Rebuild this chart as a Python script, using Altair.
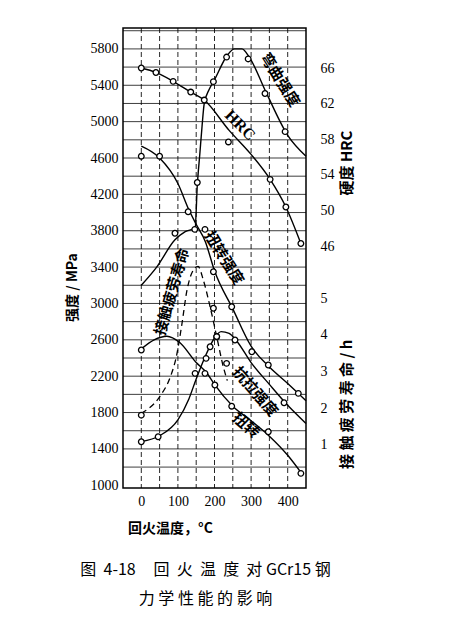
import altair as alt
import pandas as pd

# ---------------- data ----------------
# hardness HRC (right axis, upper part)
hrc_line_T = [0, 40, 87, 135, 172, 240, 300, 352, 395, 436]
hrc_line_v = [66, 65.5, 64.5, 63.3, 62.4, 59.0, 56.3, 53.5, 50.4, 46.3]
hrc_pt_T = [0, 40, 87, 135, 172, 238, 352, 395, 436]
hrc_pt_v = [66, 65.5, 64.5, 63.3, 62.4, 57.7, 53.5, 50.4, 46.3]

# bending strength (MPa)
bend_line_T = [0, 42, 92, 120, 147, 153, 160, 166, 172, 185, 200, 235, 255, 275, 295, 340, 400, 450]
bend_line_v = [3200, 3400, 3700, 3790, 3830, 4300, 4650, 4950, 5200, 5350, 5460, 5730, 5800, 5800, 5710, 5330, 4850, 4620]
bend_pt_T = [92, 146, 153, 197, 233, 292, 338, 393]
bend_pt_v = [3772, 3815, 4330, 5440, 5710, 5690, 5310, 4890]

# torsion strength (MPa)
tors_line_T = [0, 50, 100, 130, 150, 175, 200, 250, 300, 350, 400, 450]
tors_line_v = [4730, 4600, 4320, 4030, 3870, 3680, 3360, 2940, 2530, 2300, 2120, 1930]
tors_pt_T = [0, 50, 128, 174, 197, 247, 302, 347, 429]
tors_pt_v = [4620, 4620, 4009, 3815, 3349, 2964, 2469, 2323, 2011]

# tensile strength (MPa)
tens_line_T = [0, 50, 100, 130, 150, 175, 200, 218, 240, 260, 300, 350, 400, 450]
tens_line_v = [1480, 1545, 1720, 1950, 2170, 2420, 2620, 2690, 2670, 2590, 2350, 2110, 1880, 1680]
tens_pt_T = [0, 46, 147, 177, 188, 206, 256, 390]
tens_pt_v = [1479, 1534, 2231, 2396, 2524, 2634, 2598, 1908]

# twist (on the MPa scale of the figure)
twist_line_T = [0, 35, 70, 105, 150, 180, 200, 250, 300, 350, 400, 440]
twist_line_v = [2500, 2600, 2640, 2570, 2350, 2230, 2110, 1870, 1710, 1540, 1330, 1120]
twist_pt_T = [0, 174, 201, 247, 347, 436]
twist_pt_v = [2488, 2231, 2103, 1870, 1589, 1131]

# contact fatigue life (h, right axis lower part)
life_line_T = [0, 50, 80, 95, 110, 125, 140, 155, 170, 188, 206, 224, 235]
life_line_v = [1.86, 2.31, 2.87, 3.37, 4.23, 5.22, 5.72, 5.86, 5.47, 4.76, 3.95, 3.13, 2.75]
life_pt_T = [0, 197, 206, 233]
life_pt_v = [1.81, 4.72, 3.95, 3.22]

# axis ticks and grid
x_labels = [0, 100, 200, 300, 400]
x_grid = [0, 50, 100, 150, 200, 250, 300, 350, 400]
y_labels = list(range(1000, 5801, 400))
y_grid = list(range(1200, 6001, 200))
hrc_ticks = [46, 50, 54, 58, 62, 66]
life_ticks = [1, 2, 3, 4, 5]

# right-axis scale relations of the figure
HRC0, HRC_STEP = 3630, 98      # MPa position of HRC 46, MPa per HRC unit
LIFE0, LIFE_STEP = 1040, 404   # MPa position of 0 h, MPa per hour


def hrc_pos(h):
    return HRC0 + (h - 46) * HRC_STEP


def life_pos(h):
    return LIFE0 + LIFE_STEP * h


rows_line, rows_pt = [], []


def add(name, lt, lv, pt, pv, conv=lambda v: v):
    for t, v in zip(lt, lv):
        rows_line.append({"series": name, "T": t, "v": conv(v)})
    for t, v in zip(pt, pv):
        rows_pt.append({"series": name, "T": t, "v": conv(v)})


add("HRC", hrc_line_T, hrc_line_v, hrc_pt_T, hrc_pt_v, hrc_pos)
add("弯曲强度", bend_line_T, bend_line_v, bend_pt_T, bend_pt_v)
add("扭转强度", tors_line_T, tors_line_v, tors_pt_T, tors_pt_v)
add("抗拉强度", tens_line_T, tens_line_v, tens_pt_T, tens_pt_v)
add("扭转", twist_line_T, twist_line_v, twist_pt_T, twist_pt_v)
add("接触疲劳寿命", life_line_T, life_line_v, life_pt_T, life_pt_v, life_pos)

lines = pd.DataFrame(rows_line)
pts = pd.DataFrame(rows_pt)

XS = alt.Scale(domain=[-50, 450], nice=False, zero=False)
YS = alt.Scale(domain=[970, 6030], nice=False, zero=False)
NUMF = "Liberation Serif"
CJK = "Noto Sans CJK SC"

x_enc = alt.X("T:Q", scale=XS, axis=alt.Axis(
    values=x_labels, tickCount=50, labelOverlap=False, grid=False, format="d",
    domain=False, ticks=False, labelPadding=6, labelFont=NUMF, labelFontSize=14, labelColor="black",
    title="回火温度，°C", titleFont=CJK, titleFontSize=14, titleFontWeight="bold", titleColor="black",
    titleX=47, titleY=40, titleAlign="center", titleBaseline="middle"))
y_enc = alt.Y("v:Q", scale=YS, axis=alt.Axis(
    values=y_labels, tickCount=50, labelOverlap=False, grid=False, format="d",
    domain=False, ticks=False, labelPadding=5, labelFont=NUMF, labelFontSize=14, labelColor="black",
    title="强度 / MPa", titleFont=CJK, titleFontSize=14, titleFontWeight="bold", titleColor="black",
    titleX=-51, titleY=259, titleAngle=270, titleAlign="center", titleBaseline="middle"))

vgrid = alt.Chart(pd.DataFrame({"T": x_grid})).mark_rule(
    color="black", strokeWidth=1, strokeDash=[5, 3], opacity=0.85).encode(x=x_enc)
hgrid = alt.Chart(pd.DataFrame({"v": y_grid})).mark_rule(
    color="black", strokeWidth=0.9, opacity=0.85).encode(y=y_enc)

solid = alt.Chart(lines[lines.series != "接触疲劳寿命"]).mark_line(
    color="black", strokeWidth=1.4, interpolate="monotone").encode(
    x="T:Q", y="v:Q", detail="series:N")
dashed = alt.Chart(lines[lines.series == "接触疲劳寿命"]).mark_line(
    color="black", strokeWidth=1.3, strokeDash=[6, 4], interpolate="monotone").encode(
    x="T:Q", y="v:Q")
points = alt.Chart(pts).mark_point(
    shape="circle", filled=True, fill="white", stroke="black", strokeWidth=1.3, size=32, opacity=1).encode(
    x="T:Q", y="v:Q")

# curve labels
annotations = [
    ("弯曲强度", 379, 5460, 58),
    ("HRC", 270, 4960, 45),
    ("接触疲劳寿命", 84, 3130, 286),
    ("扭转强度", 226, 3500, 58),
    ("抗拉强度", 311, 2030, 49),
    ("扭转", 286, 1660, 41),
]
label_layers = []
for txt, t, v, ang in annotations:
    label_layers.append(alt.Chart().mark_text(
        text=txt, angle=ang, font=(NUMF if txt == "HRC" else CJK),
        fontSize=(16 if txt == "HRC" else 15),
        fontWeight="bold", color="black").encode(x=alt.datum(t), y=alt.datum(v)))

# right-side titles
right_titles = [
    alt.Chart().mark_text(text="硬度  HRC", angle=270, font=CJK, fontSize=15, fontWeight="bold",
                          color="black").encode(x=alt.value(224), y=alt.datum(4545)),
    alt.Chart().mark_text(text="接 触 疲 劳 寿 命 / h", angle=270, font=CJK, fontSize=15,
                          fontWeight="bold", color="black").encode(x=alt.value(224), y=alt.datum(1890)),
]

main = alt.layer(hgrid, vgrid, solid, dashed, points, *label_layers, *right_titles)

right_vals = [hrc_pos(h) for h in hrc_ticks] + [life_pos(h) for h in life_ticks]
right_expr = (f"datum.value > 3400 ? round((datum.value - {HRC0}) / {HRC_STEP} + 46) "
              f": round((datum.value - {LIFE0}) / {LIFE_STEP})")
right_axis = alt.Chart(pd.DataFrame({"v": right_vals})).mark_tick(opacity=0).encode(
    y=alt.Y("v:Q", scale=YS, axis=alt.Axis(
        orient="right", values=right_vals, tickCount=50, labelExpr=right_expr, grid=False,
        domain=False, labelOverlap=False, ticks=False, labelPadding=14, labelFont=NUMF,
        labelFontSize=14, labelColor="black", title=None)))

NB = "\u00a0"
cap1 = ("图" + NB * 2 + "4-18" + NB * 5 + "回" + NB * 2 + "火" + NB * 2 + "温" + NB * 2 + "度"
        + NB * 2 + "对" + NB + "GCr15" + NB + "钢")
cap2 = "力 学 性 能 的 影 响"

chart = alt.layer(main, right_axis).resolve_scale(y="independent").properties(
    width=183, height=460,
    padding={"left": 115, "top": 20, "right": 150, "bottom": 140},
    autosize=alt.AutoSizeParams(type="none"),
    background="white",
    title=alt.TitleParams(
        text=[cap1, cap2],
        orient="bottom", anchor="middle", offset=27, dx=-9, font=CJK, fontSize=16,
        fontWeight="normal", color="black", lineHeight=29),
).configure_view(stroke="black", strokeWidth=1.5)

chart.save("out.html", embed_options={"renderer": "svg", "actions": False})
